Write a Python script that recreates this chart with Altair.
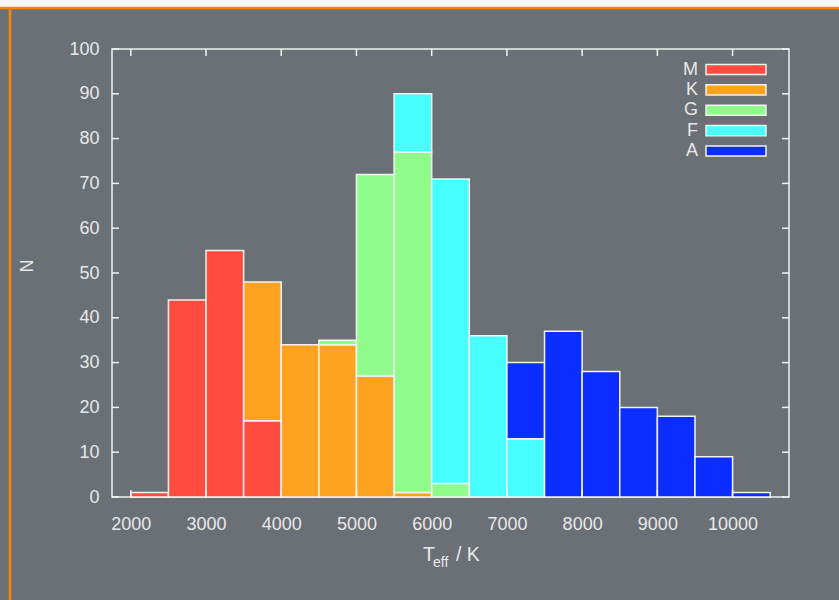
import altair as alt
import pandas as pd

# ---- data ----
classes = ["M", "K", "G", "F", "A"]
colors = ["#ff4b40", "#ffa21f", "#8ffc8c", "#47fefe", "#0b2dff"]
bin_starts = [2000, 2500, 3000, 3500, 4000, 4500, 5000, 5500, 6000,
              6500, 7000, 7500, 8000, 8500, 9000, 9500, 10000]
bin_width = 500
M = [1, 44, 55, 17, 0, 0, 0, 0, 0, 0, 0, 0, 0, 0, 0, 0, 0]
K = [0, 0, 0, 31, 34, 34, 27, 1, 0, 0, 0, 0, 0, 0, 0, 0, 0]
G = [0, 0, 0, 0, 0, 1, 45, 76, 3, 0, 0, 0, 0, 0, 0, 0, 0]
F = [0, 0, 0, 0, 0, 0, 0, 13, 68, 36, 13, 0, 0, 0, 0, 0, 0]
A = [0, 0, 0, 0, 0, 0, 0, 0, 0, 0, 17, 37, 28, 20, 18, 9, 1]
x_ticks = [2000, 3000, 4000, 5000, 6000, 7000, 8000, 9000, 10000]
y_ticks = [0, 10, 20, 30, 40, 50, 60, 70, 80, 90, 100]

counts = {"M": M, "K": K, "G": G, "F": F, "A": A}
rows = []
for ci, c in enumerate(classes):
    for s, n in zip(bin_starts, counts[c]):
        if n > 0:
            rows.append(dict(cls=c, idx=ci, start=s, end=s + bin_width, n=n))
df = pd.DataFrame(rows)

# ---- style ----
W, H = 677, 448
L, T = 112, 49
FONT = "Liberation Sans"
TXT = "#e8e8e8"
WHITE = "#f2f2f2"
BG = "#6b6f76"
ORANGE = "#ff8400"

xscale = alt.Scale(domain=[1750, 10750], nice=False, zero=False)
yscale = alt.Scale(domain=[0, 100], nice=False)
cscale = alt.Scale(domain=classes, range=colors)

bars = alt.Chart(df).transform_stack(
    stack="n", as_=["y0", "y1"], groupby=["start"],
    sort=[alt.SortField("idx", order="ascending")],
).mark_bar(stroke=WHITE, strokeWidth=1.5, opacity=1).encode(
    x=alt.X("start:Q", scale=xscale,
            axis=alt.Axis(values=x_ticks, title=None, ticks=False, domain=False,
                          grid=False, labelFont=FONT, labelFontSize=18,
                          labelColor=TXT, labelPadding=18, format="d",
                          labelFlush=False)),
    x2="end:Q",
    y=alt.Y("y0:Q", scale=yscale,
            axis=alt.Axis(values=y_ticks, title=None, ticks=False, domain=False,
                          grid=False, labelFont=FONT, labelFontSize=18,
                          labelColor=TXT, labelPadding=13, labelFlush=False)),
    y2="y1:Q",
    color=alt.Color("cls:N", scale=cscale, legend=None),
)

xt = pd.DataFrame({"v": x_ticks})
yt = pd.DataFrame({"v": y_ticks})
xtick_b = alt.Chart(xt).mark_rule(color=WHITE, strokeWidth=1.5).encode(
    x=alt.X("v:Q", scale=xscale), y=alt.value(H), y2=alt.value(H - 7))
xtick_t = alt.Chart(xt).mark_rule(color=WHITE, strokeWidth=1.5).encode(
    x=alt.X("v:Q", scale=xscale), y=alt.value(0), y2=alt.value(7))
ytick_l = alt.Chart(yt).mark_rule(color=WHITE, strokeWidth=1.5).encode(
    y=alt.Y("v:Q", scale=yscale, axis=None), x=alt.value(0), x2=alt.value(7))
ytick_r = alt.Chart(yt).mark_rule(color=WHITE, strokeWidth=1.5).encode(
    y=alt.Y("v:Q", scale=yscale, axis=None), x=alt.value(W), x2=alt.value(W - 7))

# legend
leg = pd.DataFrame({"cls": classes})
lscale = alt.Scale(type="point", domain=classes, range=[20.5, 102], padding=0)
leg_sw = alt.Chart(leg).mark_point(
    shape="M-1,-0.17L1,-0.17L1,0.17L-1,0.17Z", size=3600, filled=True,
    stroke=WHITE, strokeWidth=1.5, opacity=1).encode(
    x=alt.value(624),
    y=alt.Y("cls:N", scale=lscale, axis=None),
    color=alt.Color("cls:N", scale=cscale, legend=None))
leg_tx = alt.Chart(leg).mark_text(
    align="right", baseline="middle", font=FONT, fontSize=18, color=TXT).encode(
    x=alt.value(586),
    y=alt.Y("cls:N", scale=lscale, axis=None),
    text="cls:N")

one = pd.DataFrame({"a": [0]})
ytitle = alt.Chart(one).mark_text(text="N", angle=270, align="center", baseline="middle",
                                  font=FONT, fontSize=18, color=TXT).encode(
    x=alt.value(28 - L), y=alt.value(266 - T))
t1 = alt.Chart(one).mark_text(text="T", align="left", baseline="alphabetic",
                              font=FONT, fontSize=19.5, color=TXT).encode(
    x=alt.value(423 - L), y=alt.value(560.5 - T))
t2 = alt.Chart(one).mark_text(text="eff", align="left", baseline="alphabetic",
                              font=FONT, fontSize=14, color=TXT).encode(
    x=alt.value(433 - L), y=alt.value(567 - T))
t3 = alt.Chart(one).mark_text(text="/ K", align="left", baseline="alphabetic",
                              font=FONT, fontSize=19.5, color=TXT).encode(
    x=alt.value(456 - L), y=alt.value(560.5 - T))

# page decorations (slide frame)
strip = alt.Chart(one).mark_rect(color="#f7f7f7").encode(
    x=alt.value(-L), x2=alt.value(839 - L), y=alt.value(-T), y2=alt.value(7 - T))
hline = alt.Chart(one).mark_rule(color=ORANGE, strokeWidth=2.5).encode(
    x=alt.value(-L), x2=alt.value(839 - L), y=alt.value(8 - T))
vline = alt.Chart(one).mark_rule(color=ORANGE, strokeWidth=2.5).encode(
    x=alt.value(10 - L), y=alt.value(8 - T), y2=alt.value(600 - T))

chart = alt.layer(
    bars, strip, hline, vline, xtick_b, xtick_t, ytick_l, ytick_r,
    leg_sw, leg_tx, ytitle, t1, t2, t3
).resolve_scale(y="independent").properties(
    width=W, height=H,
    padding={"left": L, "top": T, "right": 839 - L - W, "bottom": 600 - T - H},
    autosize=alt.AutoSizeParams(type="none"),
    background=BG,
).configure_view(stroke=WHITE, strokeWidth=1.5)

chart.save("out.html", embed_options={"renderer": "svg", "actions": False})
